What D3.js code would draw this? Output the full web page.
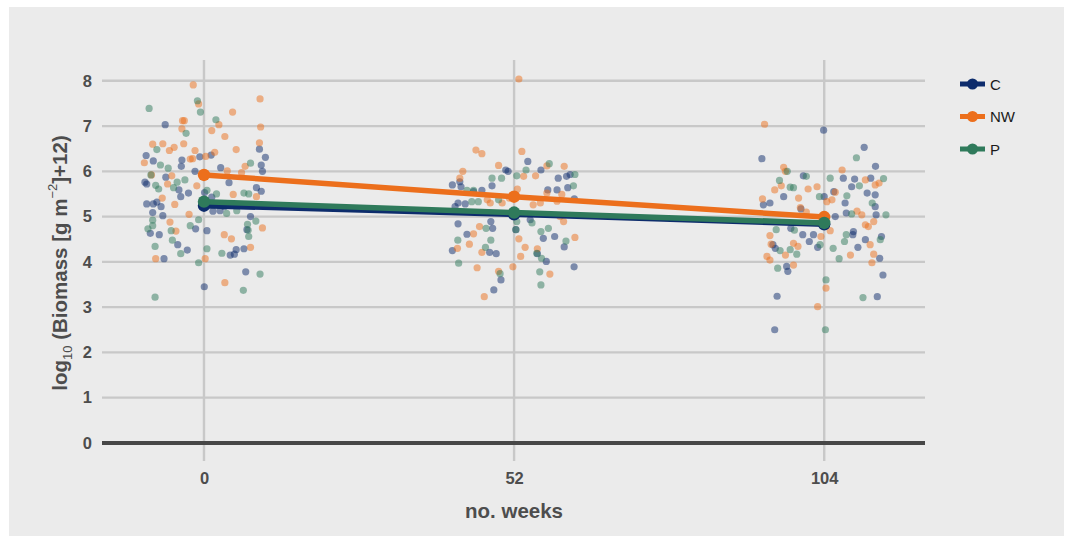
<!DOCTYPE html>
<html><head><meta charset="utf-8">
<script src="https://cdn.jsdelivr.net/npm/d3@7"></script>
<style>
html,body{margin:0;padding:0;background:#fff;}
svg{display:block;font-family:"Liberation Sans",Arial,sans-serif;}
</style></head>
<body>
<svg id="chart" width="1072" height="538"></svg>
<script>
// ---- data ----
const series = ["C", "NW", "P"];
const weeks = [0, 52, 104];
const xTicks = [0, 52, 104];
const yTicks = [0, 1, 2, 3, 4, 5, 6, 7, 8];
const colors = {C: "#0d2c6c", NW: "#ec6f1c", P: "#2f7a5b"};

const meanC  = [5.24, 5.05, 4.83];
const meanNW = [5.92, 5.44, 4.99];
const meanP  = [5.33, 5.09, 4.86];

// jittered observations: [week, value]
const pointsC = [
 [-6.5,7.03],[9.3,6.49],[10.3,6.31],[-9.7,6.35],[-8.5,6.23],[-3.8,6.11],[-3.7,6.25],[-0.7,6.32],[1.2,6.36],[2.8,6.08],
 [-1.5,6.00],[9.6,6.14],[9.8,6.00],[-9.9,5.76],[-9.6,5.72],[-6.4,5.87],[-4.2,5.59],[-2.6,5.52],[-3.9,5.44],[-9.6,5.28],
 [-8.5,5.28],[-7.9,5.32],[-7.2,5.22],[-8.6,5.09],[-6.9,5.02],[0.1,5.53],[1.3,5.43],[1.5,5.12],[2.7,5.13],[3.4,5.22],
 [4.2,5.75],[8.8,5.64],[9.6,5.56],[7.8,5.00],[7.2,4.71],[-1.4,4.73],[0.5,4.69],[-9.0,4.63],[-7.5,4.60],[-2.8,4.26],
 [-4.4,4.38],[-6.7,4.07],[4.4,4.15],[5.1,4.17],[5.4,4.27],[6.7,4.29],[7.0,3.78],[0.05,3.45],
 [54.3,6.22],[50.6,6.03],[51.0,6.00],[56.5,6.03],[41.65,5.70],[42.9,5.77],[43.1,5.66],[45.2,5.55],[46.6,5.58],[48.3,5.68],
 [42.6,5.30],[42.1,5.22],[43.8,5.28],[59.4,5.85],[60.8,5.89],[61.4,5.93],[57.65,5.59],[59.2,5.59],[61.0,5.64],[62.1,5.39],
 [54.7,4.93],[42.6,4.84],[44.1,4.61],[48.1,4.89],[48.4,4.74],[52.3,4.71],[56.9,4.52],[58.8,4.56],[60.4,4.33],[41.65,4.25],
 [47.9,4.21],[49.0,4.18],[55.9,4.18],[57.4,4.01],[62.06,3.89],[49.8,3.60],[48.6,3.38],
 [103.9,6.91],[93.55,6.28],[110.7,6.53],[112.6,6.11],[100.5,5.90],[107.2,5.85],[109.1,5.83],[108.6,5.66],[111.8,5.85],[93.8,5.26],
 [94.9,5.30],[97.2,5.44],[100.1,5.17],[104.0,5.44],[105.6,5.55],[111.2,5.52],[112.55,5.48],[107.7,5.08],[105.85,5.00],[112.55,5.22],
 [112.7,5.04],[98.4,4.74],[100.4,4.60],[101.5,4.45],[102.2,4.60],[102.9,4.32],[95.4,4.38],[95.8,4.30],[108.9,4.67],[108.8,4.60],
 [109.65,4.32],[110.9,4.49],[113.6,4.56],[113.3,4.08],[97.7,3.90],[97.9,3.79],[113.85,3.71],[96.1,3.24],[112.9,3.23],[95.7,2.50],[107.5,5.30]
];
const pointsNW = [
 [-1.8,7.91],[-3.6,7.12],[-3.3,7.12],[-3.7,6.94],[4.8,7.31],[9.4,7.60],[-0.9,7.49],[2.5,7.03],[1.3,6.90],[3.5,6.77],
 [9.5,6.98],[9.3,6.63],[-8.6,6.60],[-6.9,6.61],[-5.8,6.46],[-5.0,6.53],[-3.4,6.61],[-1.5,6.46],[1.8,6.42],[5.4,6.48],
 [-10.0,6.19],[-8.8,5.92],[-2.3,6.27],[-1.9,6.28],[0.3,6.33],[6.9,6.11],[6.3,5.97],[3.9,6.01],[-5.4,5.90],[-6.1,5.72],
 [-1.2,5.68],[8.8,5.44],[4.9,5.49],[-7.0,5.41],[-4.9,5.27],[-2.5,5.05],[-5.7,4.88],[-4.7,4.68],[3.4,4.60],[4.6,4.51],
 [9.8,4.75],[7.8,4.32],[-8.1,4.07],[0.2,4.07],[3.5,3.54],
 [52.8,8.04],[45.6,6.47],[46.6,6.39],[53.3,6.44],[43.4,6.00],[49.4,6.13],[53.6,5.89],[55.6,5.90],[57.5,6.12],[60.4,6.11],
 [42.9,5.85],[47.5,5.37],[48.0,5.30],[50.0,5.30],[51.2,5.41],[52.55,5.61],[55.2,5.26],[56.4,5.30],[57.5,5.52],[59.2,5.34],
 [60.0,5.49],[59.7,5.00],[60.3,4.89],[46.2,4.78],[45.2,4.62],[52.8,4.51],[62.2,4.54],[44.5,4.39],[42.5,4.30],[53.85,4.32],
 [53.1,4.12],[46.6,4.21],[55.9,4.29],[45.8,3.87],[51.8,3.89],[49.4,3.79],[58.0,3.73],[47.0,3.23],
 [94.0,7.04],[97.2,6.09],[97.5,6.00],[107.0,6.03],[95.7,5.59],[96.8,5.68],[93.65,5.39],[101.3,5.61],[99.7,5.41],[102.8,5.66],
 [104.45,5.33],[105.3,5.37],[105.85,5.54],[110.9,5.81],[112.55,5.70],[113.2,5.74],[110.3,5.04],[109.5,5.12],[110.9,4.82],[112.3,4.89],
 [111.4,4.78],[94.9,4.58],[95.1,4.39],[98.85,4.41],[99.6,4.34],[105.0,4.69],[103.45,4.56],[94.4,4.12],[94.9,4.04],[97.5,4.15],
 [98.85,3.93],[108.4,4.15],[111.7,4.38],[112.3,4.17],[112.0,3.98],[104.3,3.42],[102.9,3.01],[100.0,5.20],[101.0,5.10]
];
const pointsP = [
 [-9.2,7.39],[-1.1,7.56],[-0.6,7.31],[-3.0,6.84],[2.0,7.14],[-7.9,6.48],[-7.3,6.14],[-6.0,6.07],[-8.9,5.92],[-8.1,5.69],
 [-7.6,5.61],[-4.5,5.76],[-3.2,5.81],[-5.1,5.64],[0.5,5.58],[2.1,5.50],[7.8,6.18],[6.7,5.52],[7.5,5.50],[5.5,5.13],
 [3.8,5.07],[-9.4,4.73],[-8.6,4.92],[-8.6,4.80],[-2.3,4.80],[-0.9,4.93],[-5.5,4.69],[-5.3,4.48],[7.4,4.70],[7.5,4.56],
 [7.3,4.83],[8.7,4.90],[-8.2,4.34],[-3.9,4.18],[0.5,4.29],[3.0,4.19],[-0.9,3.98],[9.4,3.73],[6.6,3.37],[-8.2,3.22],
 [57.9,6.17],[54.0,6.03],[52.45,5.90],[48.3,5.85],[49.9,5.85],[62.2,5.93],[44.1,5.58],[45.2,5.58],[44.9,5.33],[46.0,5.33],
 [49.4,5.37],[61.95,5.68],[52.45,4.89],[52.3,4.71],[55.0,4.86],[56.5,4.67],[57.75,4.74],[42.56,4.48],[48.1,4.48],[47.2,4.32],
 [60.7,4.46],[56.6,4.08],[55.8,4.19],[42.7,3.97],[56.3,3.78],[56.5,3.49],[49.65,3.74],[47.3,4.74],
 [109.4,6.30],[105.0,5.85],[113.95,5.84],[97.8,6.00],[101.0,5.89],[96.5,5.80],[98.3,5.65],[98.85,5.64],[107.8,5.46],[109.9,5.68],
 [103.2,5.44],[108.6,5.06],[114.35,5.04],[112.05,5.30],[95.95,4.71],[107.7,4.60],[107.4,4.45],[113.4,4.49],[105.5,4.30],[103.3,4.38],
 [99.4,4.17],[96.6,4.25],[98.3,4.27],[106.5,4.07],[96.2,3.86],[104.3,3.60],[110.5,3.21],[104.2,2.50],[99.0,4.70]
];

const pointSets = {C: pointsC, NW: pointsNW, P: pointsP};
const means = {C: meanC, NW: meanNW, P: meanP};

// ---- layout ----
const svg = d3.select("#chart");
const panel = {left: 102, right: 925, top: 60, bottom: 461};
const x = d3.scaleLinear().domain([-17.1, 120.9]).range([panel.left, panel.right]);
const y = d3.scaleLinear().domain([-0.4, 8.46]).range([panel.bottom, panel.top]);

svg.append("rect").attr("x", 9).attr("y", 7).attr("width", 1055).attr("height", 529).attr("fill", "#ebebeb");

// grid
const grid = svg.append("g");
grid.selectAll("line.h").data(yTicks.filter(d => d !== 0)).join("line")
  .attr("x1", panel.left).attr("x2", panel.right)
  .attr("y1", d => y(d)).attr("y2", d => y(d))
  .attr("stroke", "#c8c8c8").attr("stroke-width", 2.4);
grid.selectAll("line.v").data(xTicks).join("line")
  .attr("x1", d => x(d)).attr("x2", d => x(d))
  .attr("y1", panel.top).attr("y2", panel.bottom)
  .attr("stroke", "#c8c8c8").attr("stroke-width", 2.4);

// zero line
svg.append("line").attr("x1", panel.left).attr("x2", panel.right)
  .attr("y1", y(0)).attr("y2", y(0)).attr("stroke", "#474747").attr("stroke-width", 4);

// points
series.forEach(s => {
  svg.append("g").selectAll("circle").data(pointSets[s]).join("circle")
    .attr("cx", d => x(d[0])).attr("cy", d => y(d[1])).attr("r", 3.6)
    .attr("fill", colors[s]).attr("fill-opacity", 0.5);
});

// mean lines + markers
const line = d3.line().x((d, i) => x(weeks[i])).y(d => y(d));
series.forEach(s => {
  const g = svg.append("g");
  g.append("path").datum(means[s]).attr("d", line)
    .attr("fill", "none").attr("stroke", colors[s]).attr("stroke-width", 5.5);
  g.selectAll("circle").data(means[s]).join("circle")
    .attr("cx", (d, i) => x(weeks[i])).attr("cy", d => y(d)).attr("r", 6.2)
    .attr("fill", colors[s]);
});

// axes labels
const yAxis = d3.axisLeft(y).tickValues(yTicks).tickSize(0).tickPadding(0).tickFormat(d3.format("d"));
const ya = svg.append("g").attr("transform", `translate(92,0)`).call(yAxis);
ya.select(".domain").remove();
ya.selectAll("text").attr("font-size", 16.5).attr("font-weight", "bold").attr("fill", "#4d4d4d")
  .attr("font-family", "Liberation Sans, Arial, sans-serif");

const xAxis = d3.axisBottom(x).tickValues(xTicks).tickSize(0).tickPadding(0).tickFormat(d3.format("d"));
const xa = svg.append("g").attr("transform", `translate(0,472)`).call(xAxis);
xa.select(".domain").remove();
xa.selectAll("text").attr("font-size", 16.5).attr("font-weight", "bold").attr("fill", "#4d4d4d")
  .attr("font-family", "Liberation Sans, Arial, sans-serif");

// axis titles
svg.append("text").attr("x", 514).attr("y", 518).attr("text-anchor", "middle")
  .attr("font-size", 20.5).attr("font-weight", "bold").attr("fill", "#4d4d4d").text("no. weeks");

const yt = svg.append("text").attr("transform", "translate(67,263) rotate(-90)")
  .attr("text-anchor", "middle").attr("font-size", 20.5).attr("font-weight", "bold").attr("fill", "#4d4d4d");
yt.append("tspan").text("log");
yt.append("tspan").attr("font-size", 13).attr("font-weight", "normal").attr("dy", 5).text("10");
yt.append("tspan").attr("dy", -5).text(" (Biomass [g m");
yt.append("tspan").attr("font-size", 13).attr("font-weight", "normal").attr("dy", -10).text("\u22122");
yt.append("tspan").attr("dy", 10).text("]+12)");

// legend
const leg = svg.append("g");
series.forEach((s, i) => {
  const cy = 84 + i * 32.5;
  leg.append("line").attr("x1", 960).attr("x2", 985).attr("y1", cy).attr("y2", cy)
    .attr("stroke", colors[s]).attr("stroke-width", 5);
  leg.append("circle").attr("cx", 972.5).attr("cy", cy).attr("r", 5.5).attr("fill", colors[s]);
  leg.append("text").attr("x", 990).attr("y", cy + 5.5).attr("font-size", 15).attr("fill", "#1a1a1a").text(s);
});
</script>
</body></html>
